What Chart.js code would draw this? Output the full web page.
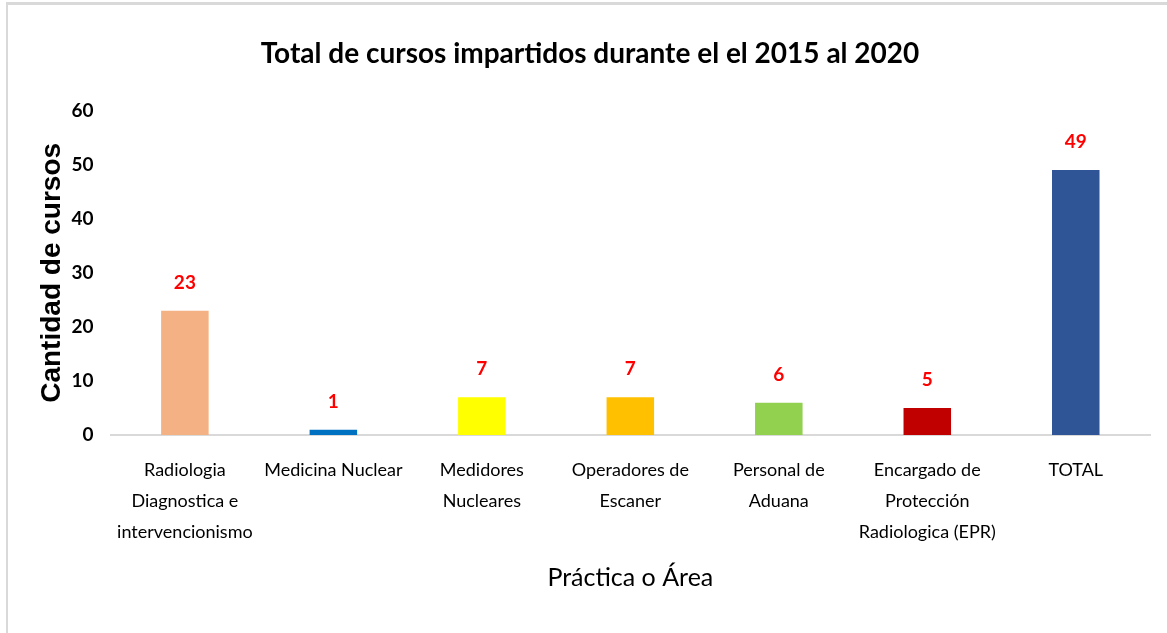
<!DOCTYPE html>
<html>
<head>
<meta charset="utf-8">
<script src="https://cdn.jsdelivr.net/npm/chart.js@4.4.1/dist/chart.umd.min.js"></script>
<style>
  html, body { margin: 0; padding: 0; background: #fff; }
  #wrap { position: relative; width: 1167px; height: 633px; overflow: hidden; }
  #frame {
    position: absolute; left: 6px; top: 2px; right: -4px; bottom: -4px;
    border-top: 3px solid #d9d9d9; border-left: 2px solid #d9d9d9;
    pointer-events: none;
  }
  canvas { position: absolute; left: 0; top: 0; }
</style>
</head>
<body>
<div id="wrap">
  <canvas id="chart" width="1167" height="633"></canvas>
  <div id="frame"></div>
</div>
<script>
const FONT = "Lato, 'Liberation Sans', sans-serif"

const categories = [
  ['Radiologia', 'Diagnostica e', 'intervencionismo'],
  'Medicina Nuclear',
  ['Medidores', 'Nucleares'],
  ['Operadores de', 'Escaner'],
  ['Personal de', 'Aduana'],
  ['Encargado de', 'Protección', 'Radiologica (EPR)'],
  'TOTAL',
]
const courses = [23, 1, 7, 7, 6, 5, 49]
const barColors = ['#F4B183', '#0070C0', '#FFFF00', '#FFC000', '#92D050', '#C00000', '#2F5597']

// value labels above each bar
const barValues = {
  id: 'barValues',
  afterDatasetsDraw(chart) {
    const { ctx } = chart
    const meta = chart.getDatasetMeta(0)
    ctx.save()
    ctx.font = `bold 19px ${FONT}`
    ctx.fillStyle = '#FF0000'
    ctx.textAlign = 'center'
    ctx.textBaseline = 'middle'
    meta.data.forEach((bar, i) => {
      ctx.fillText(String(courses[i]), bar.x, bar.y - 28)
    })
    ctx.restore()
  }
}

new Chart(document.getElementById('chart'), {
  type: 'bar',
  data: {
    labels: categories,
    datasets: [{
      data: courses,
      backgroundColor: barColors,
      barPercentage: 0.32,
      categoryPercentage: 1,
    }],
  },
  options: {
    responsive: false,
    animation: false,
    layout: { padding: { left: 30, right: 17, top: 0, bottom: 40 } },
    plugins: {
      legend: { display: false },
      tooltip: { enabled: false },
      title: {
        display: true,
        text: 'Total de cursos impartidos durante el el 2015 al 2020',
        color: '#000',
        font: { family: FONT, size: 28, weight: 'bold', lineHeight: 1.2 },
        padding: { top: 37, bottom: 40 },
      },
    },
    scales: {
      x: {
        grid: { display: false, drawTicks: false },
        border: { display: true, color: '#d9d9d9', width: 2 },
        ticks: {
          color: '#000',
          padding: 20,
          maxRotation: 0,
          autoSkip: false,
          font: { family: FONT, size: 18, lineHeight: 1.72 },
        },
        title: {
          display: true,
          text: 'Práctica o Área',
          color: '#000',
          font: { family: FONT, size: 25, lineHeight: 1.2 },
          padding: { top: -5, bottom: 0 },
        },
      },
      y: {
        min: 0,
        max: 60,
        grid: { display: false, drawTicks: false },
        border: { display: false },
        ticks: {
          stepSize: 10,
          color: '#000',
          padding: 17,
          font: { family: FONT, size: 19, weight: 'bold' },
        },
        title: {
          display: true,
          text: 'Cantidad de cursos',
          color: '#000',
          font: { family: "'Liberation Sans', Arial, sans-serif", size: 28, weight: 'bold', lineHeight: 1.2 },
          padding: { top: 5, bottom: -14 },
        },
      },
    },
  },
  plugins: [barValues],
})
</script>
</body>
</html>
